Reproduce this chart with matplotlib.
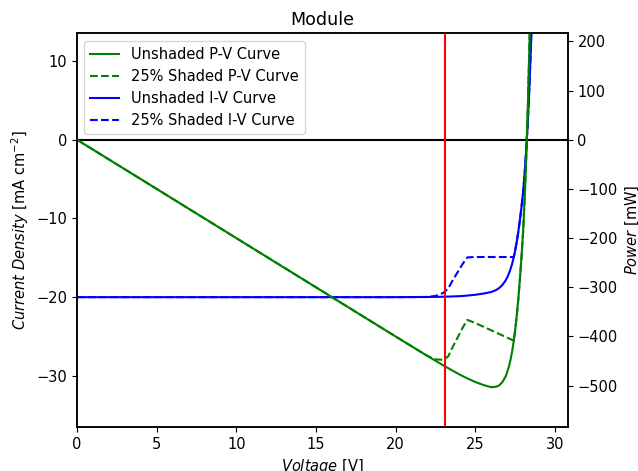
import numpy as np
import matplotlib
matplotlib.use("Agg")
import matplotlib.pyplot as plt

plt.rcParams["font.size"] = 10.5

# voltage [V], current density [mA cm^-2], power [mW]
v_unshaded = np.array([0, 5, 10, 15, 20, 22, 23, 24, 24.5, 25, 25.5, 26, 26.3, 26.5, 26.7, 26.9,
                       27.0, 27.1, 27.2, 27.3, 27.4, 27.5, 27.6, 27.7, 27.8, 27.9, 28.0, 28.1,
                       28.2, 28.3, 28.4, 28.5, 28.6])
j_unshaded = np.array([-20, -20, -20, -20, -20, -19.98, -19.95, -19.88, -19.8, -19.7, -19.55,
                       -19.35, -19.1, -18.85, -18.45, -17.9, -17.5, -17.05, -16.5, -15.85,
                       -15.05, -14.1, -13.0, -11.7, -10.2, -8.55, -6.7, -4.2, -1.2, 2.4, 6.9,
                       12.4, 18.5])
p_unshaded = np.array([0, -100, -200, -300, -400, -439.6, -458.9, -477.1, -485.1, -492.5,
                       -498.5, -503.1, -502.3, -499.5, -492.6, -481.5, -472.5, -462.1, -448.8,
                       -432.7, -412.4, -387.8, -358.8, -324.1, -283.6, -238.5, -187.6, -118.0,
                       -33.8, 67.9, 196.0, 353.4, 529.1])

v_shaded = np.array([0, 5, 10, 15, 20, 22, 22.5, 23, 23.3, 23.6, 23.9, 24.2, 24.5, 25, 26, 27,
                     27.42, 27.5, 27.6, 27.7, 27.8, 27.9, 28.0, 28.1, 28.2, 28.3, 28.4, 28.5,
                     28.6])
j_shaded = np.array([-20, -20, -20, -20, -20, -19.98, -19.85, -19.45, -18.9, -17.8, -16.8,
                     -15.8, -14.95, -14.9, -14.9, -14.9, -14.9, -14.1, -13.0, -11.7, -10.2,
                     -8.55, -6.7, -4.2, -1.2, 2.4, 6.9, 12.4, 18.5])
p_shaded = np.array([0, -100, -200, -300, -400, -439.6, -446.6, -447.4, -440.4, -420.1, -401.5,
                     -382.4, -366.3, -372.5, -387.4, -402.3, -408.6, -387.8, -358.8, -324.1,
                     -283.6, -238.5, -187.6, -118.0, -33.8, 67.9, 196.0, 353.4, 529.1])

v_mark = 23.1

fig = plt.figure(figsize=(6.38, 4.71), dpi=100)
ax1 = fig.add_axes([0.1207, 0.0934, 0.7691, 0.8355])
ax2 = ax1.twinx()

l3, = ax1.plot(v_unshaded, j_unshaded, color="blue", lw=1.5, label="Unshaded I-V Curve")
l4, = ax1.plot(v_shaded, j_shaded, color="blue", lw=1.5, ls="--", label="25% Shaded I-V Curve")

ax2.axhline(0, color="black", lw=1.5)
l1, = ax2.plot(v_unshaded, p_unshaded, color="green", lw=1.5, label="Unshaded P-V Curve")
l2, = ax2.plot(v_shaded, p_shaded, color="green", lw=1.5, ls="--", label="25% Shaded P-V Curve")
ax2.axvline(v_mark, color="red", lw=1.5)

ax1.set_xlim(0, 30.8)
ax1.set_ylim(-36.5, 13.5)
ax2.set_ylim(-584, 216)
ax1.set_yticks([-30, -20, -10, 0, 10])
ax2.set_yticks([-500, -400, -300, -200, -100, 0, 100, 200])

ax1.set_xlabel(r"$\it{Voltage}$ [V]")
ax1.set_ylabel(r"$\it{Current\ Density}$ [mA cm$^{-2}$]")
ax2.set_ylabel(r"$\it{Power}$ [mW]")
ax1.set_title("Module")

for a in (ax1, ax2):
    for s in a.spines.values():
        s.set_linewidth(1.1)

ax2.legend(handles=[l1, l2, l3, l4], loc="upper left")

fig.savefig("out.png", dpi=100)
